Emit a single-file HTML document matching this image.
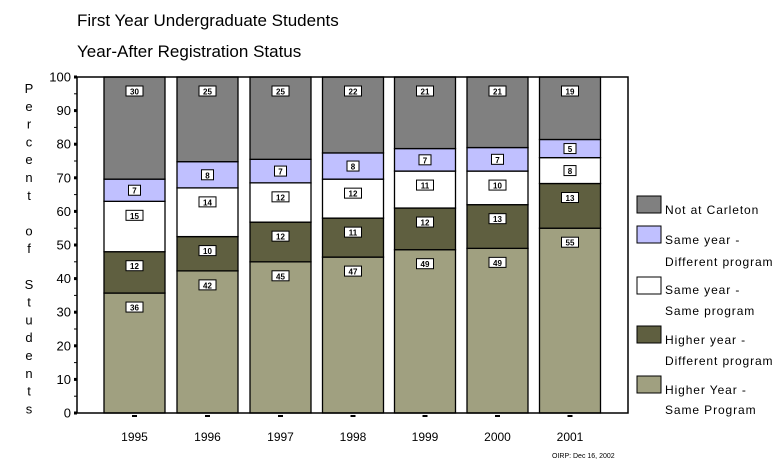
<!DOCTYPE html><html><head><meta charset="utf-8"><style>body{margin:0;background:#fff}svg{display:block}text{font-family:"Liberation Sans",sans-serif}</style></head><body>
<svg width="779" height="468" xmlns="http://www.w3.org/2000/svg">
<text x="77" y="26" font-size="17">First Year Undergraduate Students</text>
<text x="77" y="57" font-size="17">Year-After Registration Status</text>
<g id="plot"></g>
<rect x="77" y="77" width="551" height="336" fill="none" stroke="#000" stroke-width="1.5"/>
<g font-size="13" text-anchor="end" id="yt"></g>
<g font-size="13" text-anchor="middle" id="ylab"></g>
<g id="leg" font-size="12" letter-spacing="0.9">
<rect x="637" y="196" width="24" height="17" fill="#808080" stroke="#000"/><text x="665" y="214">Not at Carleton</text>
<rect x="637" y="226" width="24" height="17" fill="#c0c0ff" stroke="#000"/><text x="665" y="244">Same year  -</text><text x="665" y="266">Different program</text>
<rect x="637" y="277" width="24" height="17" fill="#fff" stroke="#000"/><text x="665" y="294">Same year  -</text><text x="665" y="315">Same program</text>
<rect x="637" y="326" width="24" height="17" fill="#5f5f40" stroke="#000"/><text x="665" y="344">Higher year -</text><text x="665" y="365">Different program</text>
<rect x="637" y="376" width="24" height="17" fill="#a0a080" stroke="#000"/><text x="665" y="394">Higher Year -</text><text x="665" y="414">Same Program</text>
</g>
<text x="552" y="458" font-size="7">OIRP: Dec 16, 2002</text>
</svg>
<script>
const ns="http://www.w3.org/2000/svg",s=document.querySelector('svg');
function el(t,a,p,txt){const e=document.createElementNS(ns,t);for(const k in a)e.setAttribute(k,a[k]);if(txt!=null)e.textContent=txt;(p||s).appendChild(e);return e;}
const Y=v=>413-v*3.36;
const xs=[104,177,250,322.5,394.5,467,539.5],yrs=[1995,1996,1997,1998,1999,2000,2001];
const tops=[[35.7,48,63,69.6],[42.3,52.5,67,74.8],[45,56.8,68.5,75.5],[46.4,58,69.6,77.4],[48.6,61,72,78.7],[49,62,72,79],[55,68.3,76,81.4]];
const labs=[[36,12,15,7,30],[42,10,14,8,25],[45,12,12,7,25],[47,11,12,8,22],[49,12,11,7,21],[49,13,10,7,21],[55,13,8,5,19]];
const cols=['#a0a080','#5f5f40','#fff','#c0c0ff','#808080'];
const g=document.getElementById('plot');
xs.forEach((x,i)=>{const b=[0,...tops[i],100];
for(let k=0;k<5;k++){const y1=Y(b[k+1]),y0=Y(b[k]);el('rect',{x:x,y:y1,width:61,height:y0-y1,fill:cols[k],stroke:'#000','stroke-width':1.3},g);
const cy=Math.min(y1+14,(y1+y0)/2);const t=String(labs[i][k]);const w=t.length>1?17:12;
el('rect',{x:x+30.5-w/2,y:cy-5,width:w,height:10,fill:'#fff',stroke:'#000','stroke-width':1},g);
el('text',{x:x+30.5,y:cy+3.5,'font-size':8,'font-weight':'bold','text-anchor':'middle'},g,t);}
el('rect',{x:x+28,y:415,width:5,height:2,fill:'#000'});
el('text',{x:x+30.5,y:441,'font-size':12,'text-anchor':'middle'},null,yrs[i]);});
const yt=document.getElementById('yt');
for(let v=0;v<=100;v+=5){const y=Y(v);if(v%10==0){el('rect',{x:74,y:y-1.5,width:3,height:3,fill:'#000'});el('text',{x:71,y:y+4.5},yt,v);}else el('line',{x1:74,x2:77,y1:y,y2:y,stroke:'#000'});}
const L="Percent of Students",yl=document.getElementById('ylab');
[...L].forEach((c,i)=>{if(c!=' ')el('text',{x:29,y:93+i*17.8},yl,c);});
</script>
</body></html>
